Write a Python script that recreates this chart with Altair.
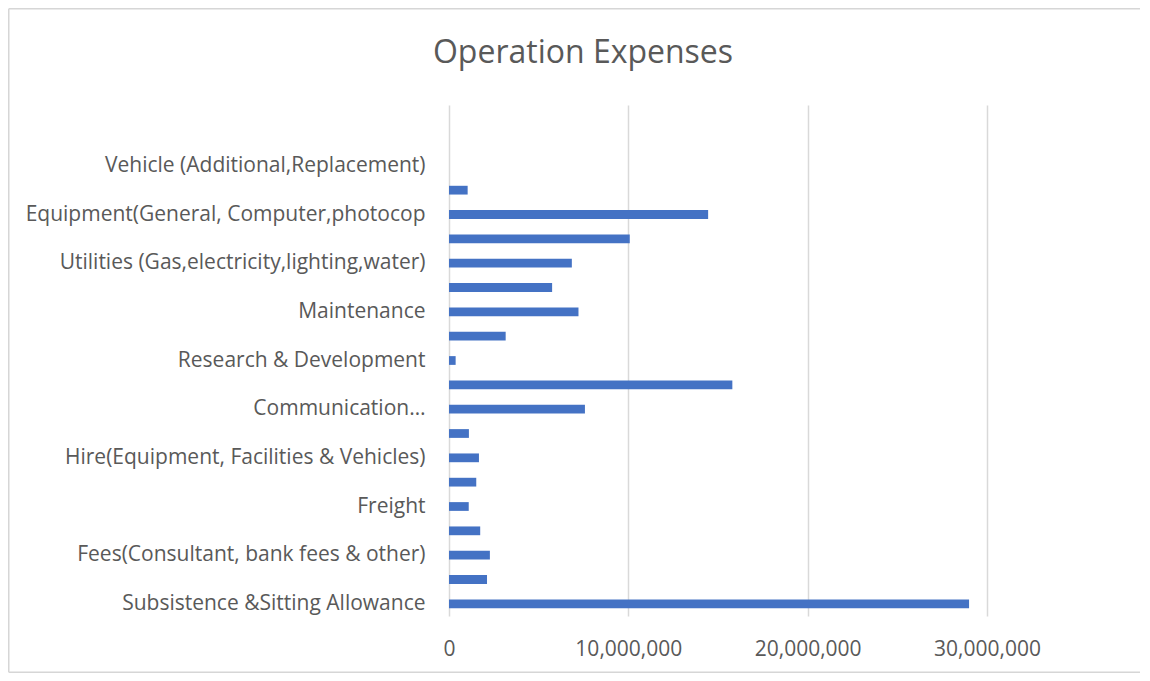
import json
import altair as alt
import pandas as pd

# Category labels from bottom to top (unlabelled rows in the source are empty strings)
labels = [
    "Subsistence &Sitting Allowance", "",
    "Fees(Consultant, bank fees & other)", "",
    "Freight", "",
    "Hire(Equipment, Facilities & Vehicles)", "",
    "Communication…", "",
    "Research & Development", "",
    "Maintenance", "",
    "Utilities (Gas,electricity,lighting,water)", "",
    "Equipment(General, Computer,photocop", "",
    "Vehicle (Additional,Replacement)",
    "", "",
]
values = [
    29000000, 2120000, 2280000, 1740000, 1100000, 1520000, 1670000, 1110000,
    7580000, 15800000, 370000, 3160000, 7220000, 5750000, 6850000, 10080000,
    14450000, 1040000, 0,
]
x_ticks = [0, 10000000, 20000000, 30000000]
title_text = "Operation Expenses"

TEXT = "#595959"
FONT = "Open Sans"
FRAME = "#d6d6d6"

df = pd.DataFrame({
    "pos": list(range(len(values))),
    "label": labels[: len(values)],
    "value": values,
})
domain = list(range(len(labels) - 1, -1, -1))
label_expr = json.dumps(labels, ensure_ascii=False) + "[datum.value]"

W, H = 538, 511
PL, PT, PR, PB = 441, 97, 155, 57

one = pd.DataFrame({"k": [0]})
frame_top = alt.Chart(one).mark_rule(stroke=FRAME, strokeWidth=1.5).encode(
    x=alt.value(-PL + 0.75), x2=alt.value(W + PR - 2), y=alt.value(-PT + 0.75)
)
frame_bottom = alt.Chart(one).mark_rule(stroke=FRAME, strokeWidth=1.5).encode(
    x=alt.value(-PL + 0.75), x2=alt.value(W + PR - 2), y=alt.value(H + PB - 0.75)
)
frame_left = alt.Chart(one).mark_rule(stroke=FRAME, strokeWidth=1.5).encode(
    x=alt.value(-PL + 0.75), y=alt.value(-PT + 0.75), y2=alt.value(H + PB - 0.75)
)

bars = alt.Chart(df).mark_bar(color="#4472C4").encode(
    y=alt.Y(
        "pos:O",
        scale=alt.Scale(domain=domain, paddingInner=0.64, paddingOuter=0.32),
        axis=alt.Axis(
            title=None, labelExpr=label_expr, labelFont=FONT, labelFontSize=21,
            labelColor=TEXT, labelPadding=24, labelLimit=600, ticks=False,
            domain=False, grid=False,
        ),
    ),
    x=alt.X(
        "value:Q",
        scale=alt.Scale(domain=[0, 30000000], nice=False),
        axis=alt.Axis(
            title=None, values=x_ticks, format=",d", grid=True, gridColor="#d9d9d9",
            gridWidth=1.5, ticks=False, domain=False, labelFont=FONT, labelFontSize=21,
            labelColor=TEXT, labelPadding=22, labelFlush=False,
        ),
    ),
    tooltip=["label:N", "value:Q"],
)

chart = alt.layer(frame_top, frame_bottom, frame_left, bars).properties(
    width=W, height=H,
    title=alt.Title(
        title_text, fontSize=32, font=FONT, fontWeight="normal", color=TEXT,
        anchor="middle", dx=-135, offset=-62,
    ),
    autosize=alt.AutoSizeParams(type="none"),
    padding={"left": PL, "top": PT, "right": PR, "bottom": PB},
).configure(background="white").configure_view(stroke=None, strokeWidth=0)

chart.save("out.html", embed_options={"renderer": "svg", "actions": False})
